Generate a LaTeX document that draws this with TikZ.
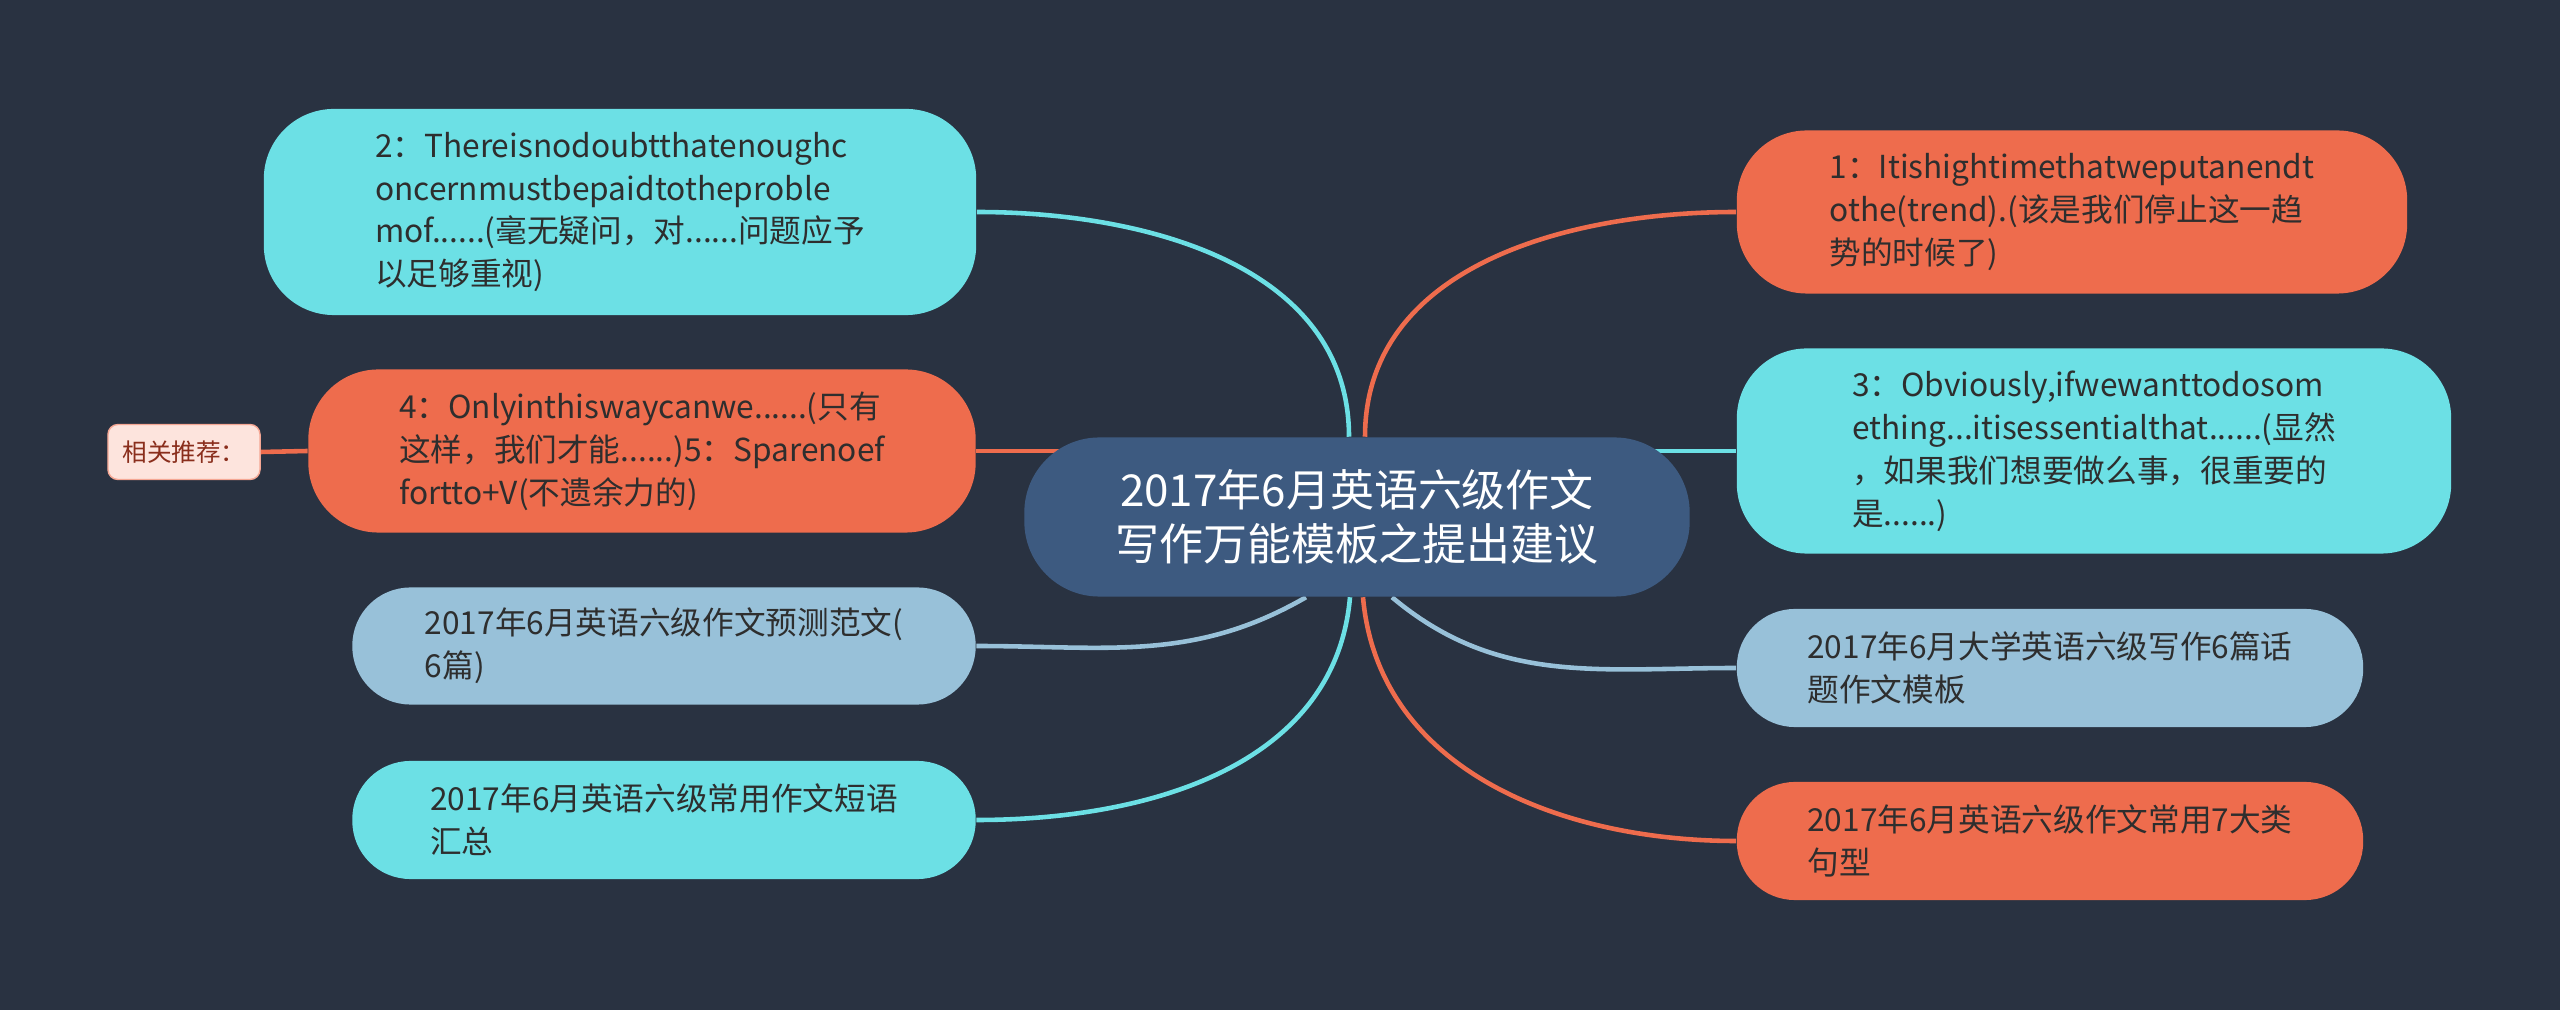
\documentclass[tikz,border=0pt]{standalone}
\usepackage{fontspec}
\setmainfont{Noto Sans CJK SC}
\usetikzlibrary{calc}
\definecolor{bgnavy}{HTML}{293241}
\definecolor{cnavy}{HTML}{3D5A80}
\definecolor{sky}{HTML}{6CE0E5}
\definecolor{coral}{HTML}{EE6C4D}
\definecolor{steel}{HTML}{98C1D9}
\definecolor{blush}{HTML}{FDE4DD}
\definecolor{rust}{HTML}{8A2E1C}
\definecolor{inktext}{HTML}{2E2E2E}
\pgfdeclarelayer{bg}
\pgfdeclarelayer{links}
\pgfsetlayers{bg,links,main}

\begin{document}
\begin{tikzpicture}[x=0.01cm,y=-0.01cm,
  box/.style={rounded corners=0.58cm,inner sep=0pt,align=left,text=inktext,
    font=\fontsize{9}{12.2}\selectfont},
  cyanbox/.style={box,fill=sky},
  orangebox/.style={box,fill=coral},
  bluebox/.style={box,fill=steel},
  link/.style={line width=1.3pt}]
  \useasboundingbox (0,0) rectangle (2560,1010);
  \begin{pgfonlayer}{bg}
    \fill[bgnavy] (0,0) rectangle (2560,1010);
  \end{pgfonlayer}

  \node[fill=cnavy,rounded corners=0.75cm,minimum width=6.65cm,minimum height=1.59cm,
    inner sep=0pt,text=white,align=center,font=\fontsize{12.5}{15.5}\selectfont]
    (ctr) at (1357,517) {2017年6月英语六级作文\\写作万能模板之提出建议};

  % left side
  \node[cyanbox,rounded corners=0.7cm,minimum width=7.12cm,minimum height=2.06cm] (two) at (620,212)
    {2：Thereisnodoubtthatenoughc\\oncernmustbepaidtotheproble\\mof......(毫无疑问，对......问题应予\\以足够重视)};
  \node[orangebox,rounded corners=0.7cm,minimum width=6.67cm,minimum height=1.63cm] (four) at (642,451)
    {4：Onlyinthiswaycanwe......(只有\\这样，我们才能......)5：Sparenoef\\fortto+V(不遗余力的)};
  \node[fill=blush,draw=coral!60,rounded corners=0.1cm,minimum width=1.52cm,minimum height=0.55cm,
    inner sep=0pt,text=rust,font=\fontsize{7}{8.4}\selectfont] (rel) at (184,452) {相关推荐：};
  \node[bluebox,minimum width=6.23cm,minimum height=1.17cm] (pred) at (664,646)
    {2017年6月英语六级作文预测范文(\\6篇)};
  \node[cyanbox,minimum width=6.23cm,minimum height=1.18cm] (phr) at (664,820)
    {2017年6月英语六级常用作文短语\\汇总};

  % right side
  \node[orangebox,rounded corners=0.7cm,minimum width=6.70cm,minimum height=1.63cm] (one) at (2072,212)
    {1：Itishightimethatweputanendt\\othe(trend).(该是我们停止这一趋\\势的时候了)};
  \node[cyanbox,rounded corners=0.7cm,minimum width=7.14cm,minimum height=2.05cm] (three) at (2094,451)
    {3：Obviously,ifwewanttodosom\\ething...itisessentialthat......(显然\\，如果我们想要做么事，很重要的\\是......)};
  \node[bluebox,minimum width=6.26cm,minimum height=1.18cm] (tmpl) at (2050,668)
    {2017年6月大学英语六级写作6篇话\\题作文模板};
  \node[orangebox,minimum width=6.26cm,minimum height=1.18cm] (seven) at (2050,841)
    {2017年6月英语六级作文常用7大类\\句型};

  \begin{pgfonlayer}{links}
    \draw[link,sky] ([xshift=-0.08cm]ctr.north) to[out=90,in=0] (two.east);
    \draw[link,coral] ([xshift=0.08cm]ctr.north) to[out=90,in=180] (one.west);
    \draw[link,coral] (four.east) -- ([xshift=1cm]ctr.west |- four.east);
    \draw[link,coral] (rel.east) -- (four.west);
    \draw[link,sky] (three.west) -- ([xshift=-1cm]ctr.east |- three.west);
    \draw[link,steel] ([xshift=-0.51cm]ctr.south) to[out=-150,in=0] (pred.east);
    \draw[link,sky] ([xshift=-0.07cm]ctr.south) to[out=-95,in=0] (phr.east);
    \draw[link,steel] ([xshift=0.35cm]ctr.south) to[out=-40,in=180] (tmpl.west);
    \draw[link,coral] ([xshift=0.06cm]ctr.south) to[out=-85,in=180] (seven.west);
  \end{pgfonlayer}
\end{tikzpicture}
\end{document}
